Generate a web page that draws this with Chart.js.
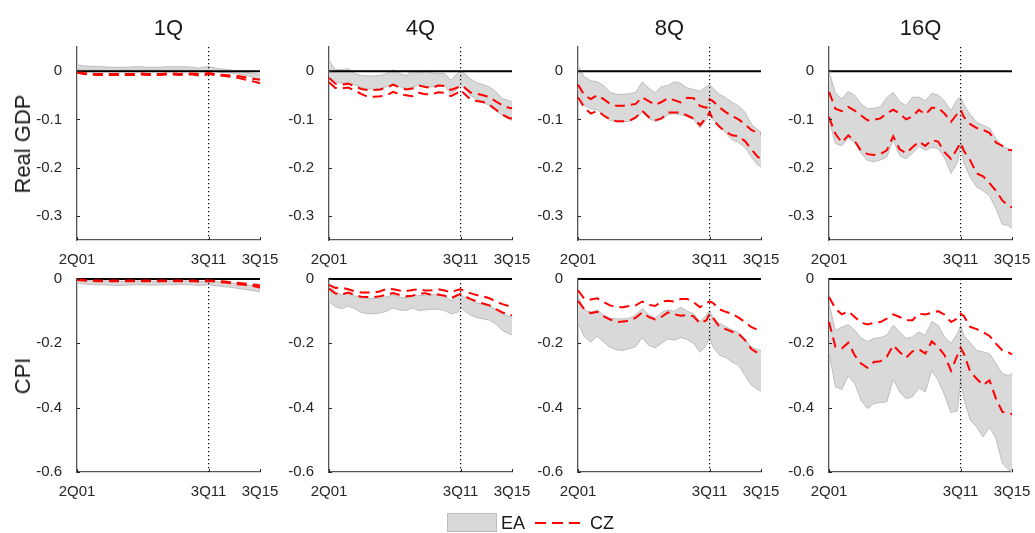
<!DOCTYPE html>
<html>
<head>
<meta charset="utf-8">
<script src="https://cdn.jsdelivr.net/npm/chart.js@4.4.1/dist/chart.umd.min.js"></script>
<style>
  html, body { margin: 0; padding: 0; background: #fff; }
  #fig { position: relative; width: 1035px; height: 533px; overflow: hidden;
         font-family: "Liberation Sans", Arial, sans-serif; color: #1a1a1a; }
  .panel { position: absolute; }
  .ttl { position: absolute; width: 183px; text-align: center; font-size: 22px; line-height: 22px; }
  .rowlab { position: absolute; font-size: 22px; line-height: 22px; white-space: nowrap;
            transform: translate(-50%, -50%) rotate(-90deg); }
  .leg { position: absolute; font-size: 18px; line-height: 20px; }
</style>
</head>
<body>
<div id="fig"></div>
<script>
// quarter index: 0 = 2Q01 ... 41 = 3Q11 ... 57 = 3Q15
const quarters = [0, 2, 4, 6, 8, 10, 12, 14, 16, 18, 20, 22, 24, 26, 28, 30, 32, 34, 36, 38, 40, 41, 42, 44, 46, 48, 50, 52, 54, 56, 57];
const xTickQ = [0, 41, 57];
const xTickLabels = ['2Q01', '3Q11', '3Q15'];
const horizons = ['1Q', '4Q', '8Q', '16Q'];
const rowNames = ['Real GDP', 'CPI'];
const gdpYTicks = [0, -0.1, -0.2, -0.3];
const cpiYTicks = [0, -0.2, -0.4, -0.6];

// Real GDP
const gdpEaHi1Q = [0.013, 0.011, 0.010, 0.010, 0.009, 0.008, 0.008, 0.008, 0.008, 0.009, 0.009, 0.008, 0.008, 0.008, 0.009, 0.009, 0.009, 0.009, 0.008, 0.006, 0.009, 0.010, 0.008, 0.005, 0.004, 0.002, 0.000, -0.002, -0.004, -0.006, -0.007];
const gdpEaLo1Q = [0.003, 0.002, 0.002, 0.002, 0.002, 0.001, 0.001, 0.002, 0.002, 0.002, 0.002, 0.002, 0.002, 0.002, 0.002, 0.002, 0.002, 0.002, 0.002, 0.000, 0.001, 0.002, 0.000, -0.002, -0.003, -0.004, -0.006, -0.008, -0.011, -0.015, -0.017];
const gdpCzHi1Q = [-0.002, -0.004, -0.005, -0.006, -0.006, -0.006, -0.006, -0.006, -0.006, -0.006, -0.005, -0.006, -0.006, -0.006, -0.005, -0.005, -0.006, -0.005, -0.005, -0.006, -0.005, -0.004, -0.005, -0.007, -0.008, -0.009, -0.010, -0.012, -0.015, -0.017, -0.018];
const gdpCzLo1Q = [-0.003, -0.006, -0.007, -0.008, -0.008, -0.008, -0.008, -0.008, -0.008, -0.008, -0.007, -0.008, -0.008, -0.008, -0.007, -0.007, -0.008, -0.007, -0.007, -0.009, -0.008, -0.006, -0.007, -0.009, -0.010, -0.012, -0.014, -0.017, -0.020, -0.023, -0.025];

const gdpEaHi4Q = [0.022, 0.003, 0.003, 0.005, -0.005, -0.009, -0.010, -0.010, -0.009, -0.005, 0.003, -0.005, -0.009, 0.001, -0.003, 0.001, -0.004, -0.005, -0.005, -0.019, -0.005, -0.001, -0.003, -0.016, -0.024, -0.028, -0.033, -0.043, -0.057, -0.061, -0.063];
const gdpEaLo4Q = [-0.012, -0.022, -0.025, -0.024, -0.028, -0.034, -0.037, -0.037, -0.036, -0.032, -0.026, -0.032, -0.036, -0.034, -0.028, -0.031, -0.033, -0.028, -0.030, -0.048, -0.036, -0.028, -0.035, -0.050, -0.058, -0.064, -0.072, -0.082, -0.092, -0.100, -0.102];
const gdpCzHi4Q = [-0.014, -0.026, -0.028, -0.026, -0.031, -0.037, -0.039, -0.039, -0.038, -0.034, -0.028, -0.034, -0.038, -0.036, -0.030, -0.033, -0.035, -0.030, -0.031, -0.039, -0.034, -0.030, -0.033, -0.044, -0.047, -0.050, -0.054, -0.063, -0.071, -0.076, -0.077];
const gdpCzLo4Q = [-0.023, -0.035, -0.036, -0.034, -0.040, -0.047, -0.053, -0.053, -0.052, -0.050, -0.043, -0.048, -0.050, -0.052, -0.045, -0.048, -0.048, -0.044, -0.045, -0.052, -0.045, -0.039, -0.046, -0.058, -0.062, -0.064, -0.070, -0.080, -0.090, -0.097, -0.098];

const gdpEaHi8Q = [0.012, -0.012, -0.020, -0.022, -0.030, -0.044, -0.048, -0.048, -0.047, -0.044, -0.022, -0.035, -0.045, -0.032, -0.030, -0.022, -0.025, -0.035, -0.038, -0.042, -0.032, -0.028, -0.035, -0.048, -0.055, -0.065, -0.072, -0.085, -0.110, -0.122, -0.126];
const gdpEaLo8Q = [-0.040, -0.072, -0.078, -0.080, -0.090, -0.102, -0.105, -0.105, -0.104, -0.098, -0.085, -0.098, -0.104, -0.100, -0.090, -0.088, -0.090, -0.095, -0.100, -0.118, -0.100, -0.088, -0.100, -0.112, -0.128, -0.142, -0.148, -0.158, -0.178, -0.195, -0.198];
const gdpCzHi8Q = [-0.028, -0.050, -0.058, -0.050, -0.058, -0.068, -0.072, -0.072, -0.070, -0.068, -0.054, -0.062, -0.070, -0.064, -0.056, -0.060, -0.065, -0.055, -0.056, -0.072, -0.076, -0.058, -0.062, -0.075, -0.085, -0.093, -0.100, -0.110, -0.122, -0.128, -0.130];
const gdpCzLo8Q = [-0.054, -0.076, -0.088, -0.082, -0.092, -0.100, -0.104, -0.104, -0.103, -0.096, -0.082, -0.095, -0.102, -0.098, -0.086, -0.086, -0.086, -0.092, -0.098, -0.112, -0.096, -0.085, -0.100, -0.115, -0.126, -0.133, -0.135, -0.145, -0.162, -0.178, -0.181];

const gdpEaHi16Q = [-0.002, -0.045, -0.058, -0.042, -0.050, -0.068, -0.078, -0.077, -0.074, -0.055, -0.044, -0.063, -0.072, -0.054, -0.054, -0.062, -0.046, -0.050, -0.062, -0.082, -0.058, -0.054, -0.070, -0.090, -0.106, -0.112, -0.118, -0.140, -0.156, -0.162, -0.164];
const gdpEaLo16Q = [-0.100, -0.150, -0.155, -0.138, -0.148, -0.170, -0.185, -0.188, -0.184, -0.178, -0.142, -0.175, -0.182, -0.170, -0.156, -0.164, -0.158, -0.160, -0.180, -0.212, -0.190, -0.150, -0.190, -0.220, -0.240, -0.248, -0.258, -0.285, -0.318, -0.320, -0.326];
const gdpCzHi16Q = [-0.043, -0.078, -0.083, -0.074, -0.082, -0.092, -0.102, -0.101, -0.098, -0.088, -0.080, -0.088, -0.100, -0.094, -0.080, -0.090, -0.076, -0.076, -0.088, -0.105, -0.088, -0.080, -0.095, -0.110, -0.118, -0.122, -0.128, -0.148, -0.155, -0.163, -0.164];
const gdpCzLo16Q = [-0.095, -0.130, -0.148, -0.133, -0.145, -0.165, -0.172, -0.174, -0.172, -0.164, -0.135, -0.162, -0.170, -0.158, -0.146, -0.155, -0.143, -0.146, -0.168, -0.182, -0.160, -0.148, -0.165, -0.185, -0.212, -0.218, -0.232, -0.248, -0.268, -0.280, -0.282];

// CPI
const cpiEaHi1Q = [-0.003, -0.004, -0.005, -0.006, -0.006, -0.006, -0.007, -0.007, -0.007, -0.006, -0.006, -0.007, -0.007, -0.006, -0.006, -0.006, -0.006, -0.006, -0.007, -0.009, -0.007, -0.006, -0.007, -0.009, -0.010, -0.012, -0.014, -0.017, -0.020, -0.022, -0.024];
const cpiEaLo1Q = [-0.012, -0.015, -0.017, -0.018, -0.018, -0.019, -0.020, -0.020, -0.019, -0.018, -0.018, -0.019, -0.019, -0.018, -0.018, -0.018, -0.017, -0.018, -0.018, -0.021, -0.019, -0.017, -0.019, -0.022, -0.024, -0.026, -0.029, -0.032, -0.035, -0.038, -0.040];
const cpiCzHi1Q = [-0.001, -0.003, -0.004, -0.005, -0.005, -0.005, -0.005, -0.005, -0.005, -0.005, -0.005, -0.005, -0.005, -0.005, -0.005, -0.005, -0.005, -0.005, -0.005, -0.006, -0.005, -0.004, -0.005, -0.006, -0.008, -0.010, -0.012, -0.014, -0.016, -0.018, -0.020];
const cpiCzLo1Q = [-0.003, -0.005, -0.006, -0.007, -0.007, -0.007, -0.007, -0.007, -0.007, -0.007, -0.007, -0.007, -0.007, -0.007, -0.007, -0.007, -0.007, -0.007, -0.007, -0.008, -0.007, -0.006, -0.007, -0.009, -0.011, -0.013, -0.016, -0.018, -0.021, -0.024, -0.027];

const cpiEaHi4Q = [-0.015, -0.040, -0.050, -0.044, -0.052, -0.060, -0.061, -0.061, -0.060, -0.055, -0.050, -0.056, -0.060, -0.052, -0.052, -0.050, -0.048, -0.050, -0.052, -0.068, -0.052, -0.048, -0.056, -0.064, -0.074, -0.080, -0.085, -0.094, -0.108, -0.116, -0.118];
const cpiEaLo4Q = [-0.070, -0.086, -0.092, -0.084, -0.092, -0.104, -0.108, -0.108, -0.106, -0.100, -0.090, -0.096, -0.098, -0.090, -0.098, -0.096, -0.094, -0.094, -0.098, -0.108, -0.104, -0.088, -0.098, -0.112, -0.120, -0.124, -0.128, -0.140, -0.160, -0.170, -0.174];
const cpiCzHi4Q = [-0.018, -0.028, -0.027, -0.032, -0.038, -0.042, -0.042, -0.042, -0.038, -0.030, -0.032, -0.036, -0.038, -0.034, -0.032, -0.036, -0.035, -0.032, -0.036, -0.042, -0.034, -0.032, -0.036, -0.044, -0.050, -0.054, -0.060, -0.070, -0.078, -0.084, -0.086];
const cpiCzLo4Q = [-0.030, -0.045, -0.048, -0.042, -0.050, -0.055, -0.056, -0.056, -0.054, -0.048, -0.044, -0.050, -0.054, -0.052, -0.046, -0.044, -0.050, -0.048, -0.052, -0.060, -0.050, -0.046, -0.052, -0.062, -0.070, -0.076, -0.082, -0.094, -0.104, -0.110, -0.113];

const cpiEaHi8Q = [-0.055, -0.096, -0.104, -0.096, -0.112, -0.122, -0.124, -0.124, -0.122, -0.112, -0.092, -0.110, -0.122, -0.104, -0.096, -0.100, -0.088, -0.100, -0.108, -0.132, -0.112, -0.098, -0.120, -0.138, -0.148, -0.158, -0.166, -0.188, -0.212, -0.220, -0.222];
const cpiEaLo8Q = [-0.135, -0.180, -0.196, -0.178, -0.196, -0.212, -0.220, -0.222, -0.216, -0.210, -0.182, -0.206, -0.214, -0.200, -0.186, -0.190, -0.182, -0.188, -0.200, -0.228, -0.205, -0.180, -0.210, -0.236, -0.244, -0.258, -0.268, -0.300, -0.330, -0.344, -0.348];
const cpiCzHi8Q = [-0.035, -0.062, -0.064, -0.060, -0.072, -0.082, -0.088, -0.088, -0.084, -0.082, -0.070, -0.080, -0.084, -0.070, -0.068, -0.070, -0.062, -0.062, -0.072, -0.088, -0.074, -0.070, -0.074, -0.094, -0.102, -0.108, -0.120, -0.134, -0.150, -0.158, -0.162];
const cpiCzLo8Q = [-0.068, -0.094, -0.106, -0.102, -0.116, -0.126, -0.134, -0.132, -0.130, -0.120, -0.104, -0.118, -0.126, -0.118, -0.104, -0.110, -0.114, -0.112, -0.116, -0.138, -0.128, -0.108, -0.120, -0.148, -0.156, -0.164, -0.170, -0.190, -0.218, -0.230, -0.232];

const cpiEaHi16Q = [-0.077, -0.160, -0.150, -0.142, -0.159, -0.185, -0.194, -0.185, -0.182, -0.175, -0.144, -0.165, -0.185, -0.180, -0.165, -0.175, -0.132, -0.144, -0.180, -0.200, -0.170, -0.144, -0.175, -0.198, -0.222, -0.227, -0.232, -0.263, -0.294, -0.301, -0.294];
const cpiEaLo16Q = [-0.227, -0.335, -0.343, -0.301, -0.325, -0.377, -0.403, -0.387, -0.384, -0.382, -0.312, -0.351, -0.372, -0.366, -0.338, -0.351, -0.284, -0.315, -0.361, -0.415, -0.410, -0.315, -0.372, -0.439, -0.460, -0.491, -0.460, -0.496, -0.573, -0.594, -0.599];
const cpiCzHi16Q = [-0.056, -0.092, -0.110, -0.100, -0.118, -0.136, -0.141, -0.136, -0.134, -0.123, -0.110, -0.118, -0.128, -0.128, -0.108, -0.110, -0.105, -0.100, -0.111, -0.134, -0.123, -0.108, -0.115, -0.149, -0.156, -0.165, -0.177, -0.201, -0.222, -0.229, -0.234];
const cpiCzLo16Q = [-0.134, -0.211, -0.216, -0.198, -0.237, -0.263, -0.276, -0.258, -0.256, -0.242, -0.206, -0.227, -0.245, -0.225, -0.218, -0.232, -0.194, -0.211, -0.237, -0.285, -0.237, -0.214, -0.232, -0.289, -0.310, -0.330, -0.315, -0.372, -0.413, -0.418, -0.420];

const rows = [
  { ticks: gdpYTicks, min: -0.35, max: 0.05,
    ea: [[gdpEaHi1Q, gdpEaLo1Q], [gdpEaHi4Q, gdpEaLo4Q], [gdpEaHi8Q, gdpEaLo8Q], [gdpEaHi16Q, gdpEaLo16Q]],
    cz: [[gdpCzHi1Q, gdpCzLo1Q], [gdpCzHi4Q, gdpCzLo4Q], [gdpCzHi8Q, gdpCzLo8Q], [gdpCzHi16Q, gdpCzLo16Q]] },
  { ticks: cpiYTicks, min: -0.6, max: 0,
    ea: [[cpiEaHi1Q, cpiEaLo1Q], [cpiEaHi4Q, cpiEaLo4Q], [cpiEaHi8Q, cpiEaLo8Q], [cpiEaHi16Q, cpiEaLo16Q]],
    cz: [[cpiCzHi1Q, cpiCzLo1Q], [cpiCzHi4Q, cpiCzLo4Q], [cpiCzHi8Q, cpiCzLo8Q], [cpiCzHi16Q, cpiCzLo16Q]] }
];

// layout (px)
const plotLeft = [77, 329, 578, 829];
const plotTop = [47, 279];
const plotW = 183, plotH = 193;
const padL = 60, padR = 22, padT = 10, padB = 32;

const FONT = '"Liberation Sans", Arial, sans-serif';
const TICK_COLOR = '#262626';
const fig = document.getElementById('fig');

const pts = arr => quarters.map((q, i) => ({ x: q, y: arr[i] }));

// keep the plot box fixed: labels may spill into the canvas margins
function noScalePadding(s) {
  s.paddingLeft = 0; s.paddingRight = 0; s.paddingTop = 0; s.paddingBottom = 0;
}

// dotted 3Q11 marker and inward tick marks
const decor = {
  id: 'decor',
  afterDatasetsDraw(chart) {
    const { ctx, chartArea: a, scales: { x } } = chart;
    const px = x.getPixelForValue(xTickQ[1]);
    ctx.save();
    ctx.strokeStyle = '#000';
    ctx.lineWidth = 1.2;
    ctx.setLineDash([1.2, 2.8]);
    ctx.beginPath();
    ctx.moveTo(px, a.top);
    ctx.lineTo(px, a.bottom);
    ctx.stroke();
    ctx.restore();
  },
  afterDraw(chart) {
    const { ctx, chartArea: a, scales: { x, y } } = chart;
    ctx.save();
    ctx.strokeStyle = TICK_COLOR;
    ctx.lineWidth = 1;
    ctx.beginPath();
    y.ticks.forEach(t => {
      const py = Math.round(y.getPixelForValue(t.value)) + 0.5;
      ctx.moveTo(a.left, py); ctx.lineTo(a.left + 3, py);
    });
    x.ticks.forEach(t => {
      const px = Math.round(x.getPixelForValue(t.value)) + 0.5;
      ctx.moveTo(px, a.bottom); ctx.lineTo(px, a.bottom - 3);
    });
    ctx.stroke();
    ctx.restore();
  }
};

rows.forEach((row, r) => {
  horizons.forEach((h, c) => {
    const wrap = document.createElement('div');
    wrap.className = 'panel';
    const w = padL + plotW + padR, hgt = padT + plotH + padB;
    wrap.style.left = (plotLeft[c] - padL) + 'px';
    wrap.style.top = (plotTop[r] - padT) + 'px';
    wrap.style.width = w + 'px';
    wrap.style.height = hgt + 'px';
    const cv = document.createElement('canvas');
    cv.width = w; cv.height = hgt;
    cv.style.width = w + 'px'; cv.style.height = hgt + 'px';
    wrap.appendChild(cv);
    fig.appendChild(wrap);

    const [eaHi, eaLo] = row.ea[c];
    const [czHi, czLo] = row.cz[c];
    const red = { borderColor: '#ff0000', borderWidth: 2, borderDash: [10, 6], pointRadius: 0, fill: false, clip: 3 };

    new Chart(cv, {
      type: 'line',
      data: {
        datasets: [
          Object.assign({ label: 'CZ', data: pts(czHi) }, red),
          Object.assign({ label: 'CZ lo', data: pts(czLo) }, red),
          { label: 'zero', data: [{ x: quarters[0], y: 0 }, { x: quarters[quarters.length - 1], y: 0 }],
            borderColor: '#000', borderWidth: 2, pointRadius: 0, fill: false, clip: 3 },
          { label: 'EA lo', data: pts(eaLo), borderColor: '#bdbdbd', borderWidth: 1, pointRadius: 0, fill: false, clip: 3 },
          { label: 'EA', data: pts(eaHi), borderColor: '#bdbdbd', borderWidth: 1, pointRadius: 0,
            fill: '-1', backgroundColor: '#d9d9d9', clip: 3 }
        ]
      },
      options: {
        responsive: false,
        animation: false,
        events: [],
        layout: { padding: { left: 0, right: padR, top: padT, bottom: 0 } },
        plugins: { legend: { display: false }, tooltip: { enabled: false } },
        elements: { line: { tension: 0 } },
        scales: {
          x: {
            type: 'linear', min: xTickQ[0], max: xTickQ[2],
            grid: { display: false },
            border: { display: true, color: '#555', width: 1.3 },
            afterBuildTicks: s => { s.ticks = xTickQ.map(v => ({ value: v })); },
            afterFit: s => { s.height = padB; noScalePadding(s); },
            ticks: { autoSkip: false, maxRotation: 0, minRotation: 0, padding: 3,
                     color: TICK_COLOR, font: { family: FONT, size: 15 },
                     callback: v => xTickLabels[xTickQ.indexOf(v)] }
          },
          y: {
            min: row.min, max: row.max,
            grid: { display: false },
            border: { display: true, color: '#555', width: 1.3 },
            afterBuildTicks: s => { s.ticks = row.ticks.map(v => ({ value: v })); },
            afterFit: s => { s.width = padL; noScalePadding(s); },
            ticks: { padding: 7, color: TICK_COLOR, font: { family: FONT, size: 15 },
                     callback: v => (v === 0 ? '0' : v.toFixed(1)) }
          }
        }
      },
      plugins: [decor]
    });

    if (r === 0) {
      const t = document.createElement('div');
      t.className = 'ttl';
      t.textContent = h;
      t.style.left = plotLeft[c] + 'px';
      t.style.top = '17px';
      fig.appendChild(t);
    }
  });

  const lab = document.createElement('div');
  lab.className = 'rowlab';
  lab.textContent = rowNames[r];
  lab.style.left = '23px';
  lab.style.top = (plotTop[r] + plotH / 2) + 'px';
  fig.appendChild(lab);
});

// legend
const legBox = document.createElement('div');
legBox.style.cssText = 'position:absolute;left:447px;top:513px;width:50px;height:19px;box-sizing:border-box;background:#d9d9d9;border:1px solid #bdbdbd;';
fig.appendChild(legBox);
const legEA = document.createElement('div');
legEA.className = 'leg'; legEA.textContent = 'EA';
legEA.style.left = '501px'; legEA.style.top = '513px';
fig.appendChild(legEA);
const legLine = document.createElementNS('http://www.w3.org/2000/svg', 'svg');
legLine.setAttribute('width', '56'); legLine.setAttribute('height', '10');
legLine.style.cssText = 'position:absolute;left:532px;top:518px;';
legLine.innerHTML = '<line x1="3" y1="5" x2="53" y2="5" stroke="#ff0000" stroke-width="2" stroke-dasharray="11 6"/>';
fig.appendChild(legLine);
const legCZ = document.createElement('div');
legCZ.className = 'leg'; legCZ.textContent = 'CZ';
legCZ.style.left = '590px'; legCZ.style.top = '513px';
fig.appendChild(legCZ);
</script>
</body>
</html>
